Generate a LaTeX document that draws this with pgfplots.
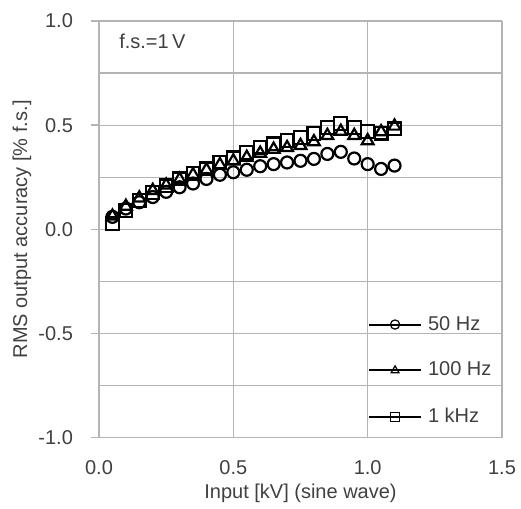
\documentclass[border=0pt]{standalone}
\usepackage{fontspec}
\setmainfont{Liberation Sans}
\usepackage{pgfplots}
\pgfplotsset{compat=1.18}

\definecolor{txt}{RGB}{64,64,64}
\definecolor{gridc}{RGB}{180,180,180}

\begin{document}
\begin{tikzpicture}
% page = 521x509 px at 0.5pt per px, axis box at (99,21)-(502,438)
\useasboundingbox (-49.5pt,-35.65pt) rectangle (211pt,218.85pt);
\begin{axis}[
  scale only axis,
  width=201.5pt, height=208.35pt,
  xmin=0, xmax=1.5, ymin=-1, ymax=1,
  xtick={0,0.5,1,1.5}, xticklabels={0.0,0.5,1.0,1.5},
  ytick={-1,-0.5,0,0.5,1}, yticklabels={-1.0,-0.5,0.0,0.5,1.0},
  minor ytick={-0.75,-0.25,0.25,0.75},
  xmajorgrids, ymajorgrids, yminorgrids,
  grid style={gridc, line width=0.6pt},
  minor grid style={gridc, line width=0.6pt},
  axis line style={gridc, line width=0.7pt},
  axis x line*=bottom, axis y line*=left,
  tick style={gridc, line width=0.7pt},
  major tick length=4pt,
  x tick style={draw=none},
  minor tick length=0pt,
  tick align=outside,
  font=\fontsize{10}{12}\selectfont,
  ticklabel style={text=txt},
  xticklabel style={yshift=-4pt},
  yticklabel style={xshift=-5.5pt},
  xlabel={Input [kV] (sine wave)},
  ylabel={RMS output accuracy [\% f.s.]},
  every axis x label/.style={at={(axis description cs:0.5,0)}, anchor=center, yshift=-27.7pt, text=txt},
  every axis y label/.style={at={(axis description cs:-0.191,0.5)}, rotate=90, anchor=center, text=txt},
  legend style={draw=none, fill=none, at={(axis cs:1.0,-0.395)}, anchor=north west,
    font=\fontsize{10}{12}\selectfont, text=txt, row sep=10.5pt, inner sep=0pt,
    legend cell align=left, nodes={inner xsep=3pt}},
  legend image code/.code={
    \draw[black, line width=1pt] (0pt,0pt) -- (26pt,0pt);
    \draw[mark size=2.3pt, line width=0.6pt] plot coordinates {(13pt,0pt)};
  },
  clip=false,
]
\addplot+[only marks, black, mark=o, mark size=3pt, line width=1.1pt, mark options={fill=white, solid}]
coordinates {
(0.05,0.060) (0.10,0.100) (0.15,0.130) (0.20,0.155) (0.25,0.180) (0.30,0.202)
(0.35,0.220) (0.40,0.242) (0.45,0.262) (0.50,0.274) (0.55,0.286) (0.60,0.303)
(0.65,0.313) (0.70,0.321) (0.75,0.329) (0.80,0.338) (0.85,0.362) (0.90,0.372)
(0.95,0.340) (1.00,0.313) (1.05,0.290) (1.10,0.306)
};
\addlegendentry{50 Hz}
\addplot+[only marks, black, mark=triangle, mark size=3.4pt, line width=1.1pt, mark options={fill=white, solid}]
coordinates {
(0.05,0.063) (0.10,0.110) (0.15,0.150) (0.20,0.186) (0.25,0.212) (0.30,0.240)
(0.35,0.262) (0.40,0.285) (0.45,0.310) (0.50,0.328) (0.55,0.345) (0.60,0.365)
(0.65,0.384) (0.70,0.392) (0.75,0.402) (0.80,0.420) (0.85,0.450) (0.90,0.470)
(0.95,0.450) (1.00,0.425) (1.05,0.468) (1.10,0.495)
};
\addlegendentry{100 Hz}
\addplot+[only marks, black, mark=square, mark size=3.2pt, line width=1.1pt, mark options={fill=white, solid}]
coordinates {
(0.05,0.026) (0.10,0.090) (0.15,0.138) (0.20,0.178) (0.25,0.209) (0.30,0.242)
(0.35,0.267) (0.40,0.290) (0.45,0.322) (0.50,0.343) (0.55,0.370) (0.60,0.395)
(0.65,0.410) (0.70,0.427) (0.75,0.440) (0.80,0.459) (0.85,0.488) (0.90,0.507)
(0.95,0.488) (1.00,0.471) (1.05,0.462) (1.10,0.482)
};
\addlegendentry{1 kHz}
\node[anchor=west, text=txt, inner sep=0pt, font=\fontsize{10}{12}\selectfont] at (axis cs:0.074,0.9) {f.s.=1\,V};
\end{axis}
\end{tikzpicture}
\end{document}
